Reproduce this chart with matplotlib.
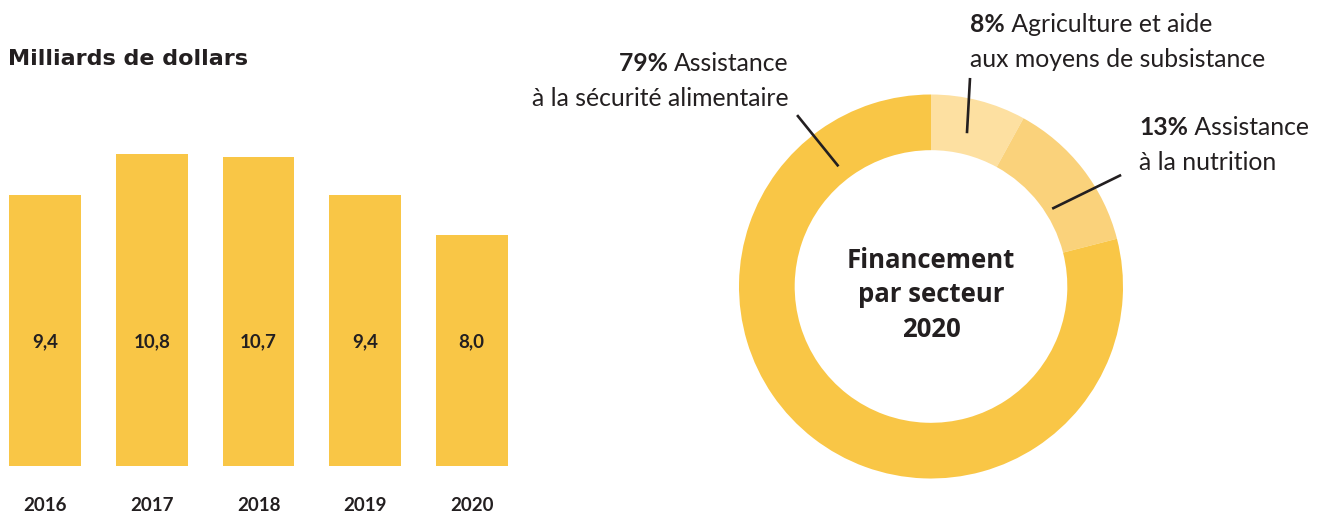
import matplotlib

matplotlib.use("Agg")
import matplotlib.pyplot as plt  # noqa: E402
import numpy as np  # noqa: E402

# --- data -------------------------------------------------------------
years = ["2016", "2017", "2018", "2019", "2020"]
funding = [9.4, 10.8, 10.7, 9.4, 8.0]
funding_labels = ["9,4", "10,8", "10,7", "9,4", "8,0"]

sector_share = [8, 13, 79]
sector_pct = ["8%", "13%", "79%"]
sector_line1 = ["Agriculture et aide", "Assistance", "Assistance"]
sector_line2 = ["aux moyens de subsistance", "à la nutrition", "à la sécurité alimentaire"]

YELLOW = "#F9C646"
sector_colors = ["#FDE0A1", "#FAD27B", YELLOW]
INK = "#231F20"
HEAD_FONT = ["Open Sans", "DejaVu Sans"]

W, H = 1317, 513
plt.rcParams["font.family"] = ["Lato", "DejaVu Sans"]

fig = plt.figure(figsize=(W / 100, H / 100), dpi=100)


def px_box(left, bottom, width, height):
    return [left / W, bottom / H, width / W, height / H]


# --- bar chart --------------------------------------------------------
ax = fig.add_axes(px_box(9, 47, 499, 332))
xs = range(len(years))
ax.bar(xs, funding, width=0.675, color=YELLOW)
ax.set_xlim(-0.34, len(years) - 1 + 0.34)
ax.set_ylim(0, 11.5)
for x, lab in zip(xs, funding_labels):
    ax.text(x, 4.1, lab, ha="center", va="baseline", fontsize=13.5,
            fontweight="bold", color=INK)
ax.set_xticks(list(xs))
ax.set_xticklabels(years, fontsize=13.5, fontweight="bold", color=INK)
ax.tick_params(axis="x", length=0, pad=22)
ax.set_yticks([])
for s in ax.spines.values():
    s.set_visible(False)

fig.text(8 / W, 1 - 65 / H, "Milliards de dollars", fontsize=16,
         fontweight="bold", family="DejaVu Sans", color=INK, ha="left", va="baseline")

# --- donut ------------------------------------------------------------
R = 192
cx, cy = 931, H - 286.5
pax = fig.add_axes(px_box(cx - R, cy - R, 2 * R, 2 * R))
pax.pie(sector_share, colors=sector_colors, startangle=90, counterclock=False,
        radius=1, wedgeprops=dict(width=0.29, linewidth=0))
pax.set_xlim(-1, 1)
pax.set_ylim(-1, 1)
pax.set_aspect("equal")
pax.axis("off")

for txt, yb in [("Financement", 268), ("par secteur", 302), ("2020", 337)]:
    pax.text(0, (286.5 - yb) / R, txt, ha="center", va="baseline",
             fontsize=18.5, fontweight="bold", family=HEAD_FONT, color=INK)

# leader lines: (angle_in, r_in, angle_out, r_out) in degrees / radius units
leaders = [(76.8, 0.82, 79.4, 1.105), (32.7, 0.75, 30.4, 1.148), (127.6, 0.79, 128.0, 1.133)]

for a0, r0, a1, r1 in leaders:
    t0, t1 = np.radians(a0), np.radians(a1)
    pax.plot([r0 * np.cos(t0), r1 * np.cos(t1)], [r0 * np.sin(t0), r1 * np.sin(t1)],
             color=INK, lw=1.9, solid_capstyle="butt", clip_on=False)

# label anchors in pixels (x, baseline of first line), alignment
anchors = [(970, 32, "left"), (1139, 135, "left"), (789, 71, "right")]
LINE_GAP = 35
FS = 17.8

for pct, l1, l2, (x, yb, ha) in zip(sector_pct, sector_line1, sector_line2, anchors):
    xd = (x - cx) / R
    y1 = (286.5 - yb) / R
    y2 = (286.5 - yb - LINE_GAP) / R
    if ha == "left":
        b = pax.text(xd, y1, pct, ha="left", va="baseline", fontsize=FS,
                     fontweight="bold", color=INK, clip_on=False)
        pax.annotate(" " + l1, xy=(1, 0), xycoords=b, ha="left", va="bottom",
                     fontsize=FS, color=INK, annotation_clip=False)
    else:
        r = pax.text(xd, y1, l1, ha="right", va="baseline", fontsize=FS,
                     color=INK, clip_on=False)
        pax.annotate(pct + " ", xy=(0, 0), xycoords=r, ha="right", va="bottom",
                     fontsize=FS, fontweight="bold", color=INK, annotation_clip=False)
    pax.text(xd, y2, l2, ha=ha, va="baseline", fontsize=FS, color=INK, clip_on=False)

fig.savefig("out.png", dpi=100)
